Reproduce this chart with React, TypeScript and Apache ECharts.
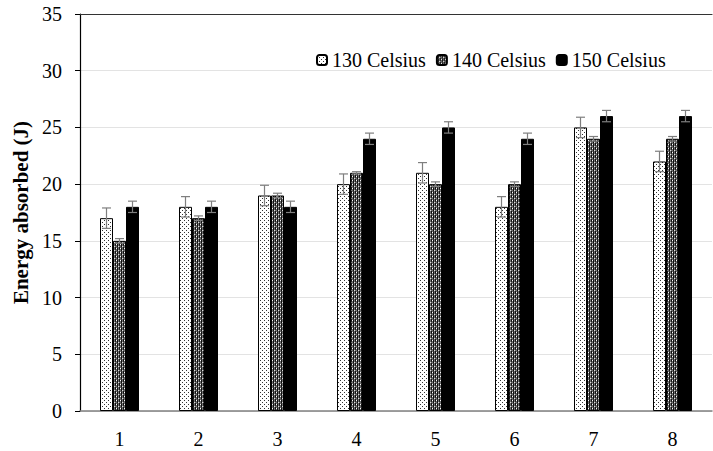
import React, { useEffect, useRef } from "react";
import * as echarts from "echarts";

const categories = ["1", "2", "3", "4", "5", "6", "7", "8"];
const seriesNames = ["130 Celsius", "140 Celsius", "150 Celsius"];
const values130 = [17, 18, 19, 20, 21, 18, 25, 22];
const values140 = [15, 17, 19, 21, 20, 20, 24, 24];
const values150 = [18, 18, 18, 24, 25, 24, 26, 26];
const err130 = [0.9, 0.9, 0.9, 0.9, 0.9, 0.9, 0.9, 0.9];
const err140 = [0.2, 0.2, 0.2, 0.1, 0.2, 0.2, 0.2, 0.2];
const err150 = [0.5, 0.5, 0.5, 0.5, 0.5, 0.5, 0.5, 0.5];
const yTicks = [0, 5, 10, 15, 20, 25, 30, 35];

function makeTile(bg: string, px: Array<[number, number, string]>, size = 4) {
  const c = document.createElement("canvas");
  c.width = size;
  c.height = size;
  const ctx = c.getContext("2d")!;
  ctx.fillStyle = bg;
  ctx.fillRect(0, 0, size, size);
  for (const [x, y, col] of px) {
    ctx.fillStyle = col;
    ctx.fillRect(x, y, 1, 1);
  }
  return c;
}

export default function App() {
  const ref = useRef<HTMLDivElement>(null);
  useEffect(() => {
    if (!ref.current) return;
    const chart = echarts.init(ref.current, undefined, { renderer: "svg" });
    const dotTile = makeTile("#ffffff", [
      [0, 0, "#333"],
      [2, 2, "#333"],
    ]);
    const checkTile = makeTile("#6f6f6f", [
      [0, 0, "#ffffff"],
      [1, 0, "#111"],
      [3, 0, "#111"],
      [1, 1, "#111"],
      [3, 1, "#222"],
      [2, 2, "#e0e0e0"],
      [1, 2, "#111"],
      [1, 3, "#333"],
      [3, 3, "#111"],
    ]);
    const fills: any[] = [
      { image: dotTile, repeat: "repeat" },
      { image: checkTile, repeat: "repeat" },
      "#000000",
    ];
    const vals = [values130, values140, values150];
    const errs = [err130, err140, err150];
    const barW = 13;
    const offsets = [-barW, 0, barW];
    const font = "Liberation Serif";

    const barSeries = vals.map((v, i) => ({
      name: seriesNames[i],
      type: "bar",
      data: v,
      barWidth: barW,
      barGap: "0%",
      itemStyle: {
        color: fills[i],
        borderColor: "#000",
        borderWidth: 1,
      },
      z: 2,
    }));

    const errSeries = vals.map((v, i) => ({
      type: "custom",
      name: "err" + i,
      z: 5,
      silent: true,
      data: v.map((val, k) => [k, val, errs[i][k]]),
      renderItem: (params: any, api: any) => {
        const x = api.value(0);
        const y = api.value(1);
        const e = api.value(2);
        const top = api.coord([x, y + e]);
        const bot = api.coord([x, y - e]);
        const cx = top[0] + offsets[i];
        const cap = 4.5;
        const style = { stroke: "#7f7f7f", lineWidth: 1.2 };
        return {
          type: "group",
          children: [
            { type: "line", shape: { x1: cx, y1: top[1], x2: cx, y2: bot[1] }, style },
            { type: "line", shape: { x1: cx - cap, y1: top[1], x2: cx + cap, y2: top[1] }, style },
            { type: "line", shape: { x1: cx - cap, y1: bot[1], x2: cx + cap, y2: bot[1] }, style },
          ],
        };
      },
    }));

    chart.setOption({
      animation: false,
      textStyle: { fontFamily: font },
      grid: { left: 80, top: 14, right: 1, bottom: 40 },
      legend: {
        data: seriesNames,
        left: 311,
        top: 45,
        itemWidth: 10,
        itemHeight: 10,
        itemGap: 10,
        textStyle: {
          fontFamily: "serif",
          fontSize: 20,
          fontWeight: "normal",
          fontStyle: "normal",
          color: "#000",
        },
      },
      xAxis: [
        {
          type: "category",
          data: categories,
          axisLine: { lineStyle: { color: "#808080", width: 1.5 } },
          axisTick: { show: false },
          axisLabel: { fontFamily: font, fontSize: 20, color: "#000", margin: 18 },
        },
        {
          type: "category",
          data: categories,
          position: "top",
          axisLine: { show: true, lineStyle: { color: "#333", width: 1.2 } },
          axisTick: { show: false },
          axisLabel: { show: false },
        },
      ],
      yAxis: {
        type: "value",
        min: yTicks[0],
        max: yTicks[yTicks.length - 1],
        interval: 5,
        name: "Energy absorbed (J)",
        nameLocation: "middle",
        nameGap: 44,
        nameRotate: 90,
        nameTextStyle: { fontFamily: font, fontSize: 21, fontWeight: "bold", color: "#000000" },
        axisLine: { show: true, lineStyle: { color: "#000", width: 1.2 } },
        axisTick: { show: true, inside: false, length: 5, lineStyle: { color: "#000" } },
        axisLabel: { fontFamily: font, fontSize: 20, color: "#000", margin: 18 },
        splitLine: { show: true, lineStyle: { color: "#e3e3e3", width: 1 } },
      },
      series: [...barSeries, ...errSeries],
    } as any);
    return () => chart.dispose();
  }, []);
  return <div ref={ref} style={{ width: 713, height: 451, position: "absolute", left: 0, top: 0 }} />;
}
